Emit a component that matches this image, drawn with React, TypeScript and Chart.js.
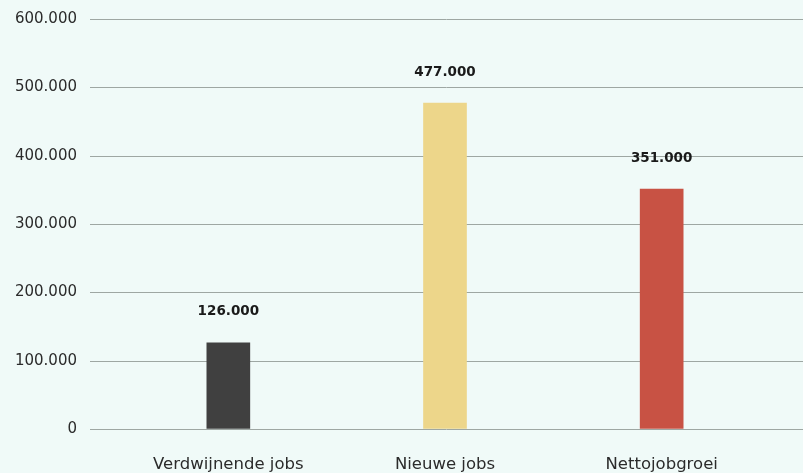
import React, { useEffect, useRef } from "react";
import { Chart, registerables } from "chart.js";

Chart.register(...registerables);

const categories = ["Verdwijnende jobs", "Nieuwe jobs", "Nettojobgroei"];
const values = [126000, 477000, 351000];
const barColors = ["#404040", "#edd68a", "#c85244"];
const yMax = 600000;
const yStep = 100000;

const fmt = (v: number) => String(v).replace(/\B(?=(\d{3})+(?!\d))/g, ".");

const gridPlugin = {
  id: "fullGrid",
  beforeDatasetsDraw(chart: any) {
    const { ctx } = chart;
    const y = chart.scales.y;
    ctx.save();
    ctx.strokeStyle = "#9ea7a3";
    ctx.lineWidth = 1;
    y.ticks.forEach((t: any) => {
      const py = Math.round(y.getPixelForValue(t.value)) + 0.5;
      ctx.beginPath();
      ctx.moveTo(90, py);
      ctx.lineTo(chart.width, py);
      ctx.stroke();
    });
    ctx.restore();
  },
};

const labelPlugin = {
  id: "valueLabels",
  afterDatasetsDraw(chart: any) {
    const { ctx } = chart;
    const meta = chart.getDatasetMeta(0);
    ctx.save();
    ctx.fillStyle = "#1a1a1a";
    ctx.font = "bold 13.5px 'DejaVu Sans', sans-serif";
    ctx.textAlign = "center";
    ctx.textBaseline = "middle";
    meta.data.forEach((bar: any, i: number) => {
      ctx.fillText(fmt(values[i]), bar.x, bar.y - 31);
    });
    ctx.restore();
  },
};

export default function App() {
  const ref = useRef<HTMLCanvasElement>(null);
  useEffect(() => {
    if (!ref.current) return;
    const chart = new Chart(ref.current, {
      type: "bar",
      data: {
        labels: categories,
        datasets: [
          {
            data: values,
            backgroundColor: barColors,
            borderWidth: 0,
            barThickness: 43,
          },
        ],
      },
      options: {
        animation: false,
        responsive: true,
        maintainAspectRatio: false,
        layout: { padding: { top: 19, right: 33, left: 0, bottom: 0 } },
        plugins: { legend: { display: false }, tooltip: { enabled: false } },
        scales: {
          x: {
            grid: { display: true, color: "rgba(0,0,0,0)", drawOnChartArea: false, drawTicks: true, tickLength: 26 },
            border: { display: false },
            ticks: {
              color: "#2b2b2b",
              font: { family: "'DejaVu Sans', sans-serif", size: 16.5 },
              padding: 0,
              maxRotation: 0,
            },
            afterFit(scale: any) {
              scale.height = 44;
            },
          },
          y: {
            min: 0,
            max: yMax,
            grid: { display: true, color: "rgba(0,0,0,0)", drawOnChartArea: false, drawTicks: true, tickLength: 43 },
            border: { display: false },
            ticks: {
              stepSize: yStep,
              color: "#2b2b2b",
              font: { family: "'DejaVu Sans', sans-serif", size: 15 },
              padding: 0,
              callback: (v: any) => fmt(Number(v)),
            },
            afterFit(scale: any) {
              scale.width = 120;
            },
          },
        },
      },
      plugins: [gridPlugin, labelPlugin],
    });
    return () => chart.destroy();
  }, []);
  return (
    <div style={{ position: "fixed", left: 0, top: 0, width: 803, height: 473, background: "#f0faf8" }}>
      <canvas ref={ref} />
    </div>
  );
}
